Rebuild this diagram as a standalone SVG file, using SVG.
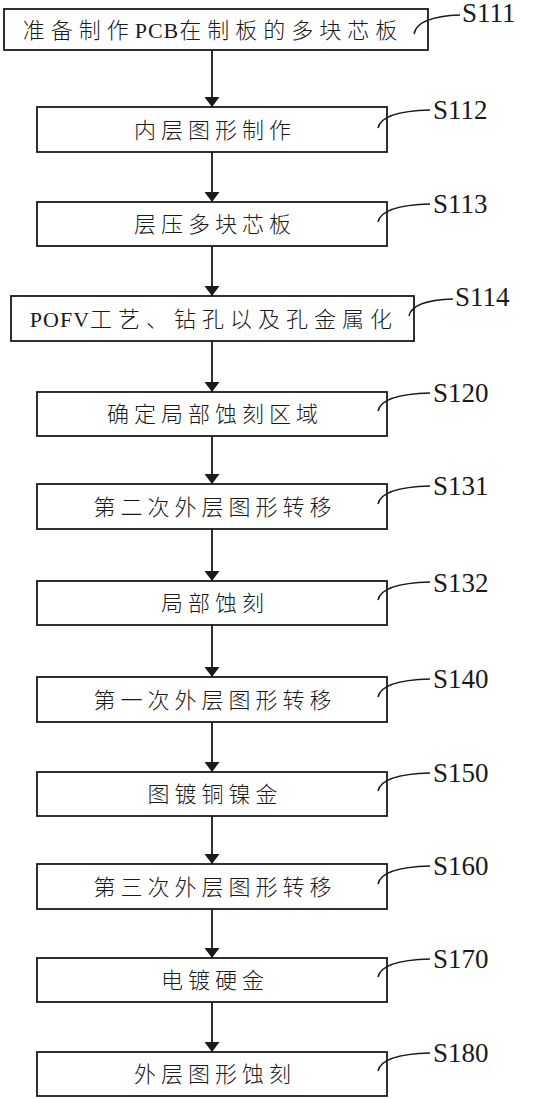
<svg xmlns="http://www.w3.org/2000/svg" width="536" height="1099" viewBox="0 0 536 1099">
<style>
.box{fill:#fff;stroke:#1a1a1a;stroke-width:1.8}
.t{font-family:"Liberation Serif","Noto Sans CJK SC",serif;font-size:22px;font-weight:300;letter-spacing:5px;fill:#1a1a1a;text-anchor:middle}
.w{letter-spacing:6px}
.lat{letter-spacing:1px;font-weight:400}
.lb{font-family:"Liberation Serif",serif;font-size:27px;fill:#1a1a1a}
.ld{fill:none;stroke:#1a1a1a;stroke-width:1.5}
.c{stroke:#1a1a1a;stroke-width:1.8;fill:none}
</style>
<defs>
<marker id="ah" viewBox="0 0 10 15" refX="10" refY="7.5" markerWidth="10" markerHeight="15" markerUnits="userSpaceOnUse" orient="auto">
<path d="M0,0 L10,7.5 L0,15 Z" fill="#1a1a1a"/>
</marker>
</defs>
<rect width="536" height="1099" fill="#fff"/>
<g id="connectors">
<line class="c" x1="212" y1="50" x2="212" y2="107" marker-end="url(#ah)"/>
<line class="c" x1="212" y1="152" x2="212" y2="202" marker-end="url(#ah)"/>
<line class="c" x1="212" y1="246" x2="212" y2="296" marker-end="url(#ah)"/>
<line class="c" x1="212" y1="341" x2="212" y2="392" marker-end="url(#ah)"/>
<line class="c" x1="212" y1="436" x2="212" y2="484" marker-end="url(#ah)"/>
<line class="c" x1="212" y1="529" x2="212" y2="581" marker-end="url(#ah)"/>
<line class="c" x1="212" y1="625" x2="212" y2="677" marker-end="url(#ah)"/>
<line class="c" x1="212" y1="722" x2="212" y2="772" marker-end="url(#ah)"/>
<line class="c" x1="212" y1="816" x2="212" y2="864" marker-end="url(#ah)"/>
<line class="c" x1="212" y1="909" x2="212" y2="958" marker-end="url(#ah)"/>
<line class="c" x1="212" y1="1002" x2="212" y2="1052" marker-end="url(#ah)"/>
</g>
<g id="S111">
<rect class="box" x="4" y="9" width="424" height="41"/>
<text class="t w" x="213" y="38">准备制作<tspan class="lat">PCB</tspan>在制板的多块芯板</text>
<path class="ld" d="M414,34 C416,24 428,16 460,15"/>
<text class="lb" x="462" y="22">S111</text>
</g>
<g id="S112">
<rect class="box" x="37" y="107" width="350" height="45"/>
<text class="t" x="215" y="138">内层图形制作</text>
<path class="ld" d="M378,128 C380,118 395,111 430,110"/>
<text class="lb" x="433" y="119">S112</text>
</g>
<g id="S113">
<rect class="box" x="37" y="202" width="350" height="44"/>
<text class="t" x="215" y="232">层压多块芯板</text>
<path class="ld" d="M378,222 C380,212 395,205 430,204"/>
<text class="lb" x="433" y="213">S113</text>
</g>
<g id="S114">
<rect class="box" x="11" y="296" width="403" height="45"/>
<text class="t w" x="214" y="327"><tspan class="lat">POFV</tspan>工艺、钻孔以及孔金属化</text>
<path class="ld" d="M409,316 C411,306 423,300 453,299"/>
<text class="lb" x="455" y="306">S114</text>
</g>
<g id="S120">
<rect class="box" x="37" y="392" width="350" height="44"/>
<text class="t" x="215" y="422">确定局部蚀刻区域</text>
<path class="ld" d="M378,411 C380,401 395,394 430,393"/>
<text class="lb" x="433" y="402">S120</text>
</g>
<g id="S131">
<rect class="box" x="37" y="484" width="350" height="45"/>
<text class="t" x="215" y="515">第二次外层图形转移</text>
<path class="ld" d="M378,504 C380,494 395,487 430,486"/>
<text class="lb" x="433" y="495">S131</text>
</g>
<g id="S132">
<rect class="box" x="37" y="581" width="350" height="44"/>
<text class="t" x="215" y="611">局部蚀刻</text>
<path class="ld" d="M378,600 C380,590 395,583 430,582"/>
<text class="lb" x="433" y="592">S132</text>
</g>
<g id="S140">
<rect class="box" x="37" y="677" width="350" height="45"/>
<text class="t" x="215" y="708">第一次外层图形转移</text>
<path class="ld" d="M378,697 C380,687 395,680 430,679"/>
<text class="lb" x="433" y="688">S140</text>
</g>
<g id="S150">
<rect class="box" x="37" y="772" width="350" height="44"/>
<text class="t" x="215" y="802">图镀铜镍金</text>
<path class="ld" d="M378,791 C380,781 395,774 430,773"/>
<text class="lb" x="433" y="782">S150</text>
</g>
<g id="S160">
<rect class="box" x="37" y="864" width="350" height="45"/>
<text class="t" x="215" y="895">第三次外层图形转移</text>
<path class="ld" d="M378,884 C380,874 395,867 430,866"/>
<text class="lb" x="433" y="875">S160</text>
</g>
<g id="S170">
<rect class="box" x="37" y="958" width="350" height="44"/>
<text class="t" x="215" y="988">电镀硬金</text>
<path class="ld" d="M378,977 C380,967 395,960 430,959"/>
<text class="lb" x="433" y="968">S170</text>
</g>
<g id="S180">
<rect class="box" x="37" y="1052" width="350" height="44"/>
<text class="t" x="215" y="1082">外层图形蚀刻</text>
<path class="ld" d="M378,1071 C380,1061 395,1054 430,1053"/>
<text class="lb" x="433" y="1062">S180</text>
</g>
</svg>
